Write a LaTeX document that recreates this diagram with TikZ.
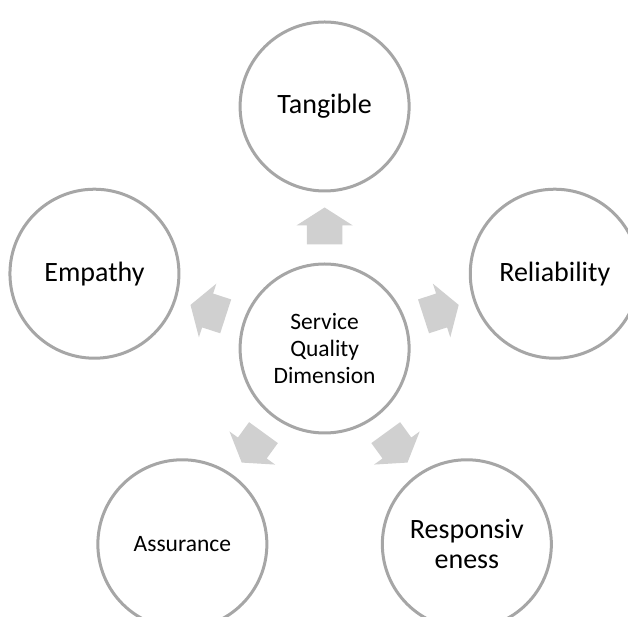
\documentclass[tikz,border=0pt]{standalone}
\usepackage{fontspec}
\setmainfont{Carlito}
\usetikzlibrary{calc}
\definecolor{ringgray}{RGB}{166,166,166}
\definecolor{spokegray}{RGB}{208,208,208}
\tikzset{ring/.style={circle,draw=ringgray,line width=3pt,fill=white,minimum size=169pt,inner sep=0pt,align=center,font=\fontsize{28}{30}\selectfont}}
\tikzset{ringsmall/.style={ring,font=\fontsize{23.5}{27}\selectfont}}
\tikzset{spoke/.style={fill=spokegray}}

\begin{document}
\begin{tikzpicture}[x=1pt,y=1pt] % hardcoded from the original, 1pt = 1px
  \useasboundingbox (0,0) rectangle (628,617);
  \coordinate (c) at (324.6,268.5);

  % block arrows, pointing out of the hub
  \foreach \a in {90,18,-54,-126,162}{
    \begin{scope}[shift={(c)},rotate=\a]
      \fill[spoke] (104,-17.8) -- (123,-17.8) -- (123,-28.2) -- (141,0) -- (123,28.2) -- (123,17.8) -- (104,17.8) -- cycle;
    \end{scope}
  }

  \node[ringsmall] (hub) at (c) {Service\\Quality\\Dimension};
  \node[ring] (tang) at ($(c)+(90:242)$) {Tangible};
  \node[ring] (reli) at ($(c)+(18:242)$) {Reliability};
  \node[ring] (resp) at ($(c)+(-54:242)$) {Responsiv\\eness};
  \node[ringsmall] (assu) at ($(c)+(-126:242)$) {Assurance};
  \node[ring] (empa) at ($(c)+(162:242)$) {Empathy}; %(97,274) measured
\end{tikzpicture}
\end{document}
